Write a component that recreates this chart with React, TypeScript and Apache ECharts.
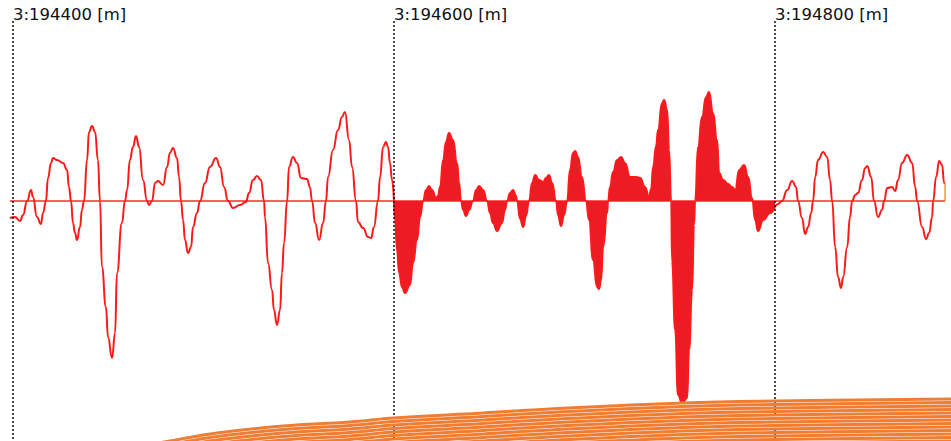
import React, { useEffect, useRef } from "react";
import * as echarts from "echarts";

// distances are metres from 3:194400 [m]; amplitudes in trace units
const ORIGIN_M = 194400;
const X_MIN = 194393.2;
const X_MAX = 194892.4;
const AMP_MIN = -240;
const AMP_MAX = 201;

const markOffsets = [0, 200, 400];
const markLabels = ["3:194400 [m]", "3:194600 [m]", "3:194800 [m]"];

const leftTrace: number[][] = [
  [-1.6, -17], [1.1, -16], [3.7, -20], [5.3, -14], [7.4, 0], [9.5, 11], [10.5, 4], [12.6, -16],
  [14.7, -23], [15.8, -12], [17.3, 0], [18.4, 23], [20.0, 38], [21.0, 43], [23.1, 41], [26.3, 38],
  [28.4, 31], [29.4, 14], [30.5, 0], [31.5, -22], [32.6, -32], [33.6, -39], [35.2, -26], [36.2, -9],
  [37.3, 0], [38.9, 41], [39.9, 69], [41.5, 75], [43.1, 69], [44.6, 41], [45.7, 0], [46.7, -66],
  [48.8, -106], [49.9, -136], [52.0, -157], [53.6, -132], [54.6, -72], [57.2, -22], [58.8, 0],
  [59.9, 11], [61.4, 41], [63.0, 54], [64.6, 65], [66.2, 54], [68.3, 21], [70.4, 0], [71.4, -4],
  [73.0, 0], [74.6, 18], [76.1, 20], [78.8, 16], [80.9, 34], [82.4, 48], [84.0, 53], [86.1, 43],
  [87.2, 24], [88.2, 0], [89.3, -19], [90.3, -39], [91.9, -52], [93.5, -46], [94.5, -26], [96.6, -12],
  [98.2, 0], [100.8, 18], [103.4, 34], [106.6, 43], [108.7, 34], [110.8, 14], [112.9, 0], [115.5, -7],
  [119.2, -4], [122.3, -1], [123.9, 8], [126.0, 21], [128.1, 25], [130.2, 21], [131.8, 0], [132.3, -16],
  [133.9, -62], [136.0, -89], [137.0, -109], [138.6, -124], [140.2, -109], [141.2, -72], [142.3, -42],
  [143.9, 0], [144.9, 34], [147.0, 44], [149.1, 38], [151.2, 23], [154.4, 22], [155.9, 14], [157.0, 0],
  [158.6, -22], [160.7, -39], [162.8, -22], [164.3, 0], [165.4, 24], [168.0, 51], [170.6, 71],
  [172.7, 84], [174.3, 89], [176.4, 61], [178.0, 34], [180.1, 0], [181.1, -21], [183.8, -27],
  [186.4, -36], [188.0, -37], [189.5, -26], [191.6, 0], [192.7, 24], [194.3, 54], [195.8, 59],
  [196.9, 54], [197.9, 38], [199.0, 21], [200.0, 0],
];

const midTrace: number[][] = [
  [200.0, 0], [200.6, -19], [201.6, -49], [202.7, -72], [204.2, -86], [205.8, -92], [208.4, -84],
  [210.0, -62], [212.1, -39], [213.7, -16], [215.3, 0], [216.8, 11], [218.4, 15], [220.0, 11],
  [222.1, 3], [223.1, 5], [224.2, 14], [225.8, 41], [227.3, 59], [228.9, 68], [231.0, 61], [233.1, 38],
  [234.2, 18], [235.2, 0], [236.3, -9], [237.8, -15], [239.4, -9], [241.5, 0], [243.1, 11], [244.7, 15],
  [246.8, 11], [248.9, 0], [250.4, -12], [252.0, -22], [254.1, -30], [256.7, -22], [258.3, -9],
  [259.4, 0], [260.9, 8], [262.5, 11], [264.1, 5], [264.6, 0], [266.2, -18], [267.8, -26], [269.3, -15],
  [270.9, 0], [272.5, 18], [274.1, 26], [276.2, 21], [278.3, 19], [279.8, 23], [281.4, 26], [283.0, 18],
  [285.1, 0], [286.1, -14], [287.7, -25], [289.3, -14], [290.9, 0], [292.4, 31], [294.0, 48], [295.1, 50],
  [296.6, 44], [298.7, 24], [300.8, 0], [302.4, -19], [304.5, -59], [306.6, -86], [307.7, -88],
  [308.7, -79], [309.8, -46], [311.9, -12], [312.4, 0], [313.4, 14], [315.0, 29], [317.1, 41],
  [319.2, 44], [321.3, 38], [323.9, 24], [327.1, 24], [329.2, 23], [331.8, 14], [333.9, 4], [335.0, 12],
  [336.0, 34], [337.6, 55], [338.6, 71], [340.7, 98], [341.8, 101], [343.4, 91], [344.4, 51], [345.5, 0],
  [346.0, -61], [347.6, -129], [349.1, -194], [351.2, -202], [353.9, -197], [354.9, -149], [356.5, -89],
  [357.5, -24], [358.1, 0], [359.6, 54], [361.7, 84], [363.8, 104], [365.4, 109], [367.5, 88],
  [369.6, 61], [370.7, 28], [372.8, 21], [375.4, 17], [377.5, 14], [379.1, 11], [381.2, 31], [383.8, 36],
  [385.9, 24], [388.0, 3], [389.6, -19], [391.1, -30], [393.8, -19], [397.4, -12], [400.0, -6],
];

const rightTrace: number[][] = [
  [400.0, -6], [401.6, -3], [403.7, 0], [406.4, 11], [409.0, 20], [411.1, 14], [412.1, 0], [414.2, -17],
  [415.8, -33], [417.4, -26], [419.0, -12], [420.0, 0], [421.1, 24], [422.6, 41], [425.3, 49],
  [427.4, 44], [428.9, 21], [430.0, 0], [431.6, -46], [433.1, -76], [434.7, -87], [435.8, -76],
  [437.9, -46], [439.4, -16], [440.5, 0], [442.1, 6], [443.6, 8], [445.7, 21], [447.3, 33], [448.4, 35],
  [450.5, 24], [452.0, 0], [454.1, -16], [456.2, -9], [457.3, 0], [458.9, 13], [461.5, 14], [463.1, 10],
  [464.6, 21], [466.7, 38], [469.4, 46], [472.0, 38], [473.6, 14], [474.6, 0], [477.2, -26], [479.3, -38],
  [480.9, -32], [482.5, -16], [483.0, 0], [484.6, 24], [486.2, 40], [487.7, 36], [488.8, 18], [489.3, 18],
];

const endTick: number[][] = [[489.3, 18], [489.3, 0]];

const horizonTop: number[][] = [
  [61.4, -247], [82.4, -240], [107.1, -232], [141.8, -225], [176.9, -221], [200.0, -217],
  [246.8, -212], [281.9, -208], [351.8, -202], [400.0, -200], [492.5, -198],
];
const horizonLayerOffsets = [0, 3.5, 7, 10.5, 14, 17.5, 21, 24.5, 28, 31.5, 35, 38.5, 42, 45.5];

const toXY = (arr: number[][]) => arr.map(([d, a]) => [ORIGIN_M + d, a]);

export default function App() {
  const ref = useRef<HTMLDivElement>(null);
  useEffect(() => {
    if (!ref.current) return;
    const chart = echarts.init(ref.current, undefined, { renderer: "svg" });
    const traceLine = { color: "#ff1a1a", width: 2 };
    const series: any[] = [
      {
        type: "line",
        name: "baseline",
        z: 1,
        symbol: "none",
        silent: true,
        data: toXY([[leftTrace[0][0], 0], [rightTrace[rightTrace.length - 1][0], 0]]),
        lineStyle: { color: "#ff2a2a", width: 1.5 },
        markLine: {
          silent: true,
          symbol: ["none", "none"],
          lineStyle: { color: "#111", type: [2, 2], width: 1.5 },
          label: {
            show: true,
            position: "start",
            formatter: "{b}",
            align: "left",
            verticalAlign: "middle",
            distance: 7,
            color: "#111",
            fontFamily: "DejaVu Sans",
            fontSize: 16.5,
          },
          data: markOffsets.map((m, i) => [
            { name: markLabels[i], coord: [ORIGIN_M + m, 180] },
            { coord: [ORIGIN_M + m, AMP_MIN] },
          ]),
        },
      },
      {
        type: "line",
        name: "left",
        z: 3,
        symbol: "none",
        smooth: 0.5,
        smoothMonotone: "x",
        data: toXY(leftTrace),
        lineStyle: traceLine,
      },
      {
        type: "line",
        name: "mid",
        z: 3,
        symbol: "none",
        smooth: 0.5,
        smoothMonotone: "x",
        data: toXY(midTrace),
        lineStyle: traceLine,
        areaStyle: { color: "#ed1c24", opacity: 1, origin: 0 },
      },
      {
        type: "line",
        name: "right",
        z: 3,
        symbol: "none",
        smooth: 0.5,
        smoothMonotone: "x",
        data: toXY(rightTrace),
        lineStyle: traceLine,
      },
      {
        type: "line",
        name: "end",
        z: 3,
        symbol: "none",
        data: toXY(endTick),
        lineStyle: { color: "#f7931e", width: 1.5 },
      },
      ...horizonLayerOffsets.map((off) => ({
        type: "line",
        z: 5,
        symbol: "none",
        smooth: 0.4,
        silent: true,
        data: toXY(horizonTop).map(([x, y]) => [x, y - off]),
        lineStyle: { color: "#ef7d32", width: 3 },
      })),
    ];
    chart.setOption({
      animation: false,
      backgroundColor: "#ffffff",
      grid: { left: 0, right: 0, top: 0, bottom: 0 },
      xAxis: { type: "value", min: X_MIN, max: X_MAX, show: false },
      yAxis: { type: "value", min: AMP_MIN, max: AMP_MAX, show: false },
      series,
    });
    return () => chart.dispose();
  }, []);
  return (
    <div
      ref={ref}
      style={{ position: "fixed", left: 0, top: 0, width: 951, height: 441, background: "#fff" }}
    />
  );
}
